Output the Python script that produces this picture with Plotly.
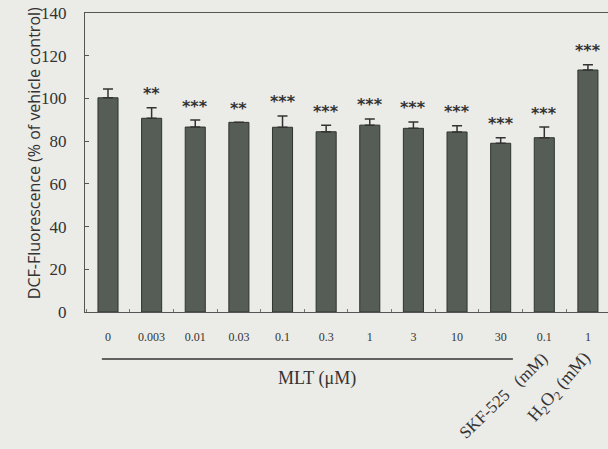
import plotly.graph_objects as go

# ---- data ----
tick_labels = ["0", "0.003", "0.01", "0.03", "0.1", "0.3", "1", "3", "10", "30", "0.1", "1"]
values = [100.3, 90.7, 86.6, 88.8, 86.5, 84.4, 87.5, 86.0, 84.3, 79.0, 81.6, 113.3]
errors = [4.1, 4.9, 3.3, 0.0, 5.3, 3.1, 2.9, 3.0, 2.9, 2.6, 5.0, 2.5]
stars = ["", "**", "***", "**", "***", "***", "***", "***", "***", "***", "***", "***"]
y_ticks = [0, 20, 40, 60, 80, 100, 120, 140]
mlt_count = 10  # first ten bars are MLT doses

BG = "#ebebe7"
BAR = "#565c56"
EDGE = "#2e352f"
INK = "#333333"
SERIF = "Liberation Serif"

x = list(range(len(values)))

fig = go.Figure()
fig.add_trace(go.Bar(
    x=x, y=values, width=0.46,
    marker=dict(color=BAR, line=dict(color=EDGE, width=1)),
    error_y=dict(type="data", symmetric=False, array=errors,
                 arrayminus=[0] * len(errors), color=INK, thickness=1.5, width=5),
    showlegend=False, hoverinfo="skip",
))

annotations = []
for xi, v, e, s in zip(x, values, errors, stars):
    if s:
        annotations.append(dict(
            x=xi, y=v + e, xref="x", yref="y", text="<b>" + s + "</b>", showarrow=False,
            yanchor="middle", yshift=14,
            font=dict(family="DejaVu Sans", size=16, color=INK),
        ))

# y-axis title
annotations.append(dict(
    x=-0.122, y=0.532, xref="paper", yref="paper",
    text="DCF-Fluorescence (% of vehicle control)", textangle=-90,
    showarrow=False, font=dict(family="Open Sans", size=16, color=INK),
))
# group label
annotations.append(dict(
    x=(mlt_count - 1) / 2 + 0.3, y=-0.263, xref="x", yref="paper",
    text="MLT (μM)", showarrow=False,
    font=dict(family=SERIF, size=18, color=INK),
))
# rotated labels for the last two bars
annotations.append(dict(
    x=mlt_count - 0.93, y=-0.445, xref="x", yref="paper",
    text="SKF-525\u00a0\u00a0\u00a0(mM)", textangle=-44, showarrow=False,
    font=dict(family=SERIF, size=17, color=INK),
))
annotations.append(dict(
    x=mlt_count + 1 - 0.65, y=-0.394, xref="x", yref="paper",
    text="H<sub>2</sub>O<sub>2</sub> (mM)", textangle=-49, showarrow=False,
    font=dict(family=SERIF, size=18, color=INK),
))

fig.update_layout(
    width=608, height=449,
    margin=dict(l=85, r=0, t=13, b=137),
    paper_bgcolor=BG, plot_bgcolor=BG,
    annotations=annotations,
    shapes=[dict(
        type="line", xref="x", yref="paper",
        x0=-0.14, x1=mlt_count - 1 + 0.28, y0=-0.157, y1=-0.157,
        line=dict(color=INK, width=1.5),
    )],
    xaxis=dict(
        range=[-0.527, 11.46], tickvals=x, ticktext=tick_labels,
        ticks="", showline=True, linecolor="#555555", linewidth=1, mirror=True,
        showgrid=False, zeroline=False,
        tickfont=dict(family=SERIF, size=12, color=INK),
        ticklabelstandoff=14,
        minor=dict(tick0=0.5, dtick=1, ticks="inside", ticklen=3,
                   tickcolor="#777777", showgrid=False),
    ),
    yaxis=dict(
        range=[0, 140], tickvals=y_ticks, ticks="inside", ticklen=4,
        tickcolor="#555555", showline=True, linecolor="#555555", linewidth=1,
        showgrid=False, zeroline=False,
        tickfont=dict(family=SERIF, size=17, color=INK),
        ticklabelstandoff=14,
    ),
)

fig.write_html("out.html", config={"displayModeBar": False},
               post_script="document.body.style.margin='0';document.body.style.background='%s';" % BG)
